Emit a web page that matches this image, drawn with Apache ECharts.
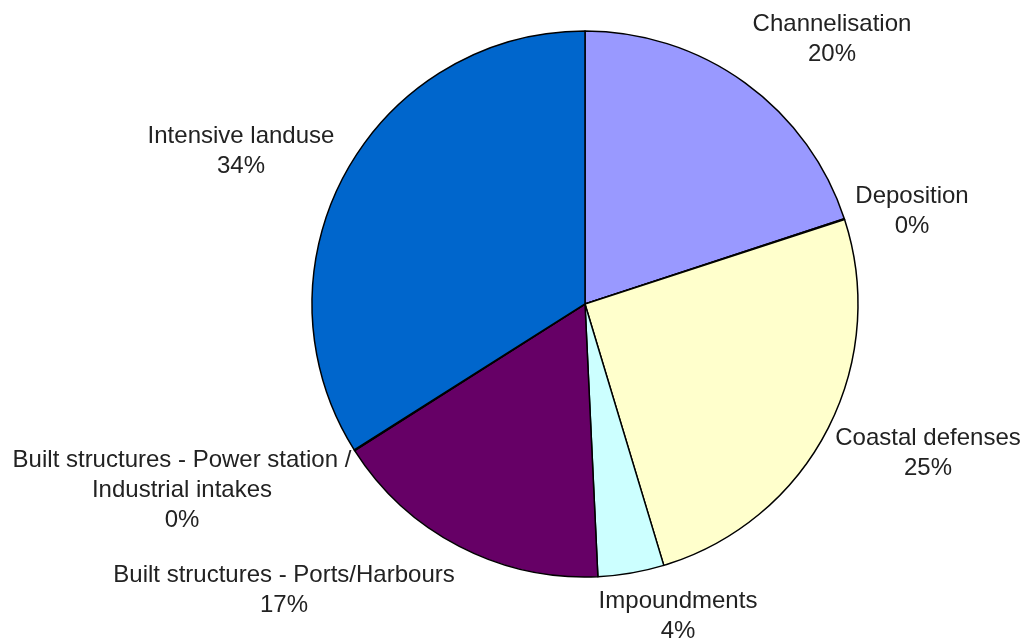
<!DOCTYPE html>
<html>
<head>
<meta charset="utf-8">
<script src="https://cdn.jsdelivr.net/npm/echarts@6/dist/echarts.min.js"></script>
<style>
html,body{margin:0;padding:0;background:#fff;}
#chart{width:1024px;height:641px;}
</style>
</head>
<body>
<div id="chart"></div>
<script>
// Data
const categories = [
  'Channelisation',
  'Deposition',
  'Coastal defenses',
  'Impoundments',
  'Built structures - Ports/Harbours',
  'Built structures - Power station /\nIndustrial intakes',
  'Intensive landuse'
];
const values = [19.9, 0.05, 25.3, 3.9, 16.7, 0.05, 33.9];
const colors = ['#9999FF', '#9999FF', '#FFFFCC', '#CCFFFF', '#660066', '#660066', '#0066CC'];

// Layout (not data)
const CX = 585, CY = 304, R = 273;
const labelCenters = [
  [832, 39], [912, 211], [928, 453], [678, 616], [284, 590], [182, 490], [241, 151]
];

const chart = echarts.init(document.getElementById('chart'));
chart.setOption({
  animation: false,
  backgroundColor: '#fff',
  series: [{
    type: 'pie',
    center: [CX, CY],
    radius: R,
    startAngle: 90,
    clockwise: true,
    percentPrecision: 0,
    avoidLabelOverlap: false,
    data: categories.map((c, i) => ({
      name: c,
      value: values[i],
      itemStyle: { color: colors[i] }
    })),
    itemStyle: { borderColor: '#000', borderWidth: 1.5 },
    label: {
      show: true,
      position: 'outside',
      formatter: p => p.name + '\n' + p.percent + '%',
      fontFamily: 'Liberation Sans, Arial, sans-serif',
      fontSize: 24,
      lineHeight: 30,
      color: '#222',
      align: 'center'
    },
    labelLine: { show: false },
    emphasis: { disabled: true },
    labelLayout: params => {
      const c = labelCenters[params.dataIndex];
      return { x: c[0], y: c[1], align: 'center', verticalAlign: 'middle' };
    }
  }]
});
</script>
</body>
</html>
